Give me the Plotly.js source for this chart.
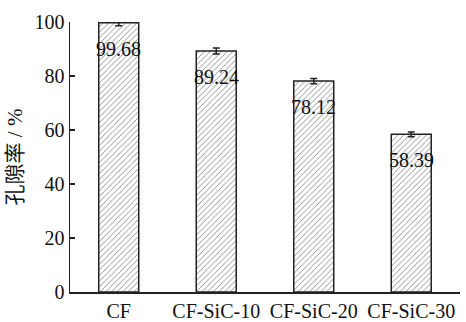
<!DOCTYPE html>
<html>
<head>
<meta charset="utf-8">
<script src="https://cdn.plot.ly/plotly-3.0.1.min.js"></script>
<style>html,body{margin:0;padding:0;background:#fff;}#chart{width:466px;height:322px;}</style>
</head>
<body>
<div id="chart"></div>
<script>
const categories = ["CF", "CF-SiC-10", "CF-SiC-20", "CF-SiC-30"];
const porosity = [99.68, 89.24, 78.12, 58.39];
const porosityErr = [1.1, 1.1, 1.0, 0.9];
const valueLabels = ["99.68", "89.24", "78.12", "58.39"];
const yTicks = [0, 20, 40, 60, 80, 100];

const FONT = "Liberation Serif, Times New Roman, Noto Sans CJK SC, serif";

const bars = {
  type: "bar",
  x: categories,
  y: porosity,
  width: 0.41,
  marker: {
    color: "#ffffff",
    line: {color: "#222", width: 1.5},
    pattern: {shape: "/", fgcolor: "#888", bgcolor: "#ffffff", size: 4, solidity: 0.22}
  },
  error_y: {type: "data", array: porosityErr, visible: true, color: "#222", thickness: 1.5, width: 3.5},
  hoverinfo: "skip"
};

const annotations = categories.map((c, i) => ({
  x: c, y: porosity[i], xref: "x", yref: "y",
  text: valueLabels[i], showarrow: false,
  yanchor: "top", yshift: -13,
  font: {family: FONT, size: 20, color: "#111"}
}));

const layout = {
  width: 466, height: 322,
  margin: {l: 70, r: 6, t: 22, b: 30},
  paper_bgcolor: "#fff", plot_bgcolor: "#fff",
  showlegend: false,
  font: {family: FONT, size: 20, color: "#111"},
  bargap: 0.59,
  xaxis: {
    type: "category",
    showline: true, linecolor: "#222", linewidth: 1.5,
    ticks: "", showgrid: false, zeroline: false,
    tickfont: {family: FONT, size: 20, color: "#111"}
  },
  yaxis: {
    range: [0, 100], tickvals: yTicks,
    showline: true, linecolor: "#222", linewidth: 1.5,
    ticks: "inside", ticklen: 5, tickwidth: 1.5, tickcolor: "#222",
    showgrid: false, zeroline: false,
    tickfont: {family: FONT, size: 20, color: "#111"},
    title: {text: "孔隙率 / %", font: {family: FONT, size: 21, color: "#111"}, standoff: 6}
  },
  annotations: annotations
};

Plotly.newPlot("chart", [bars], layout, {displayModeBar: false, staticPlot: true});
</script>
</body>
</html>
